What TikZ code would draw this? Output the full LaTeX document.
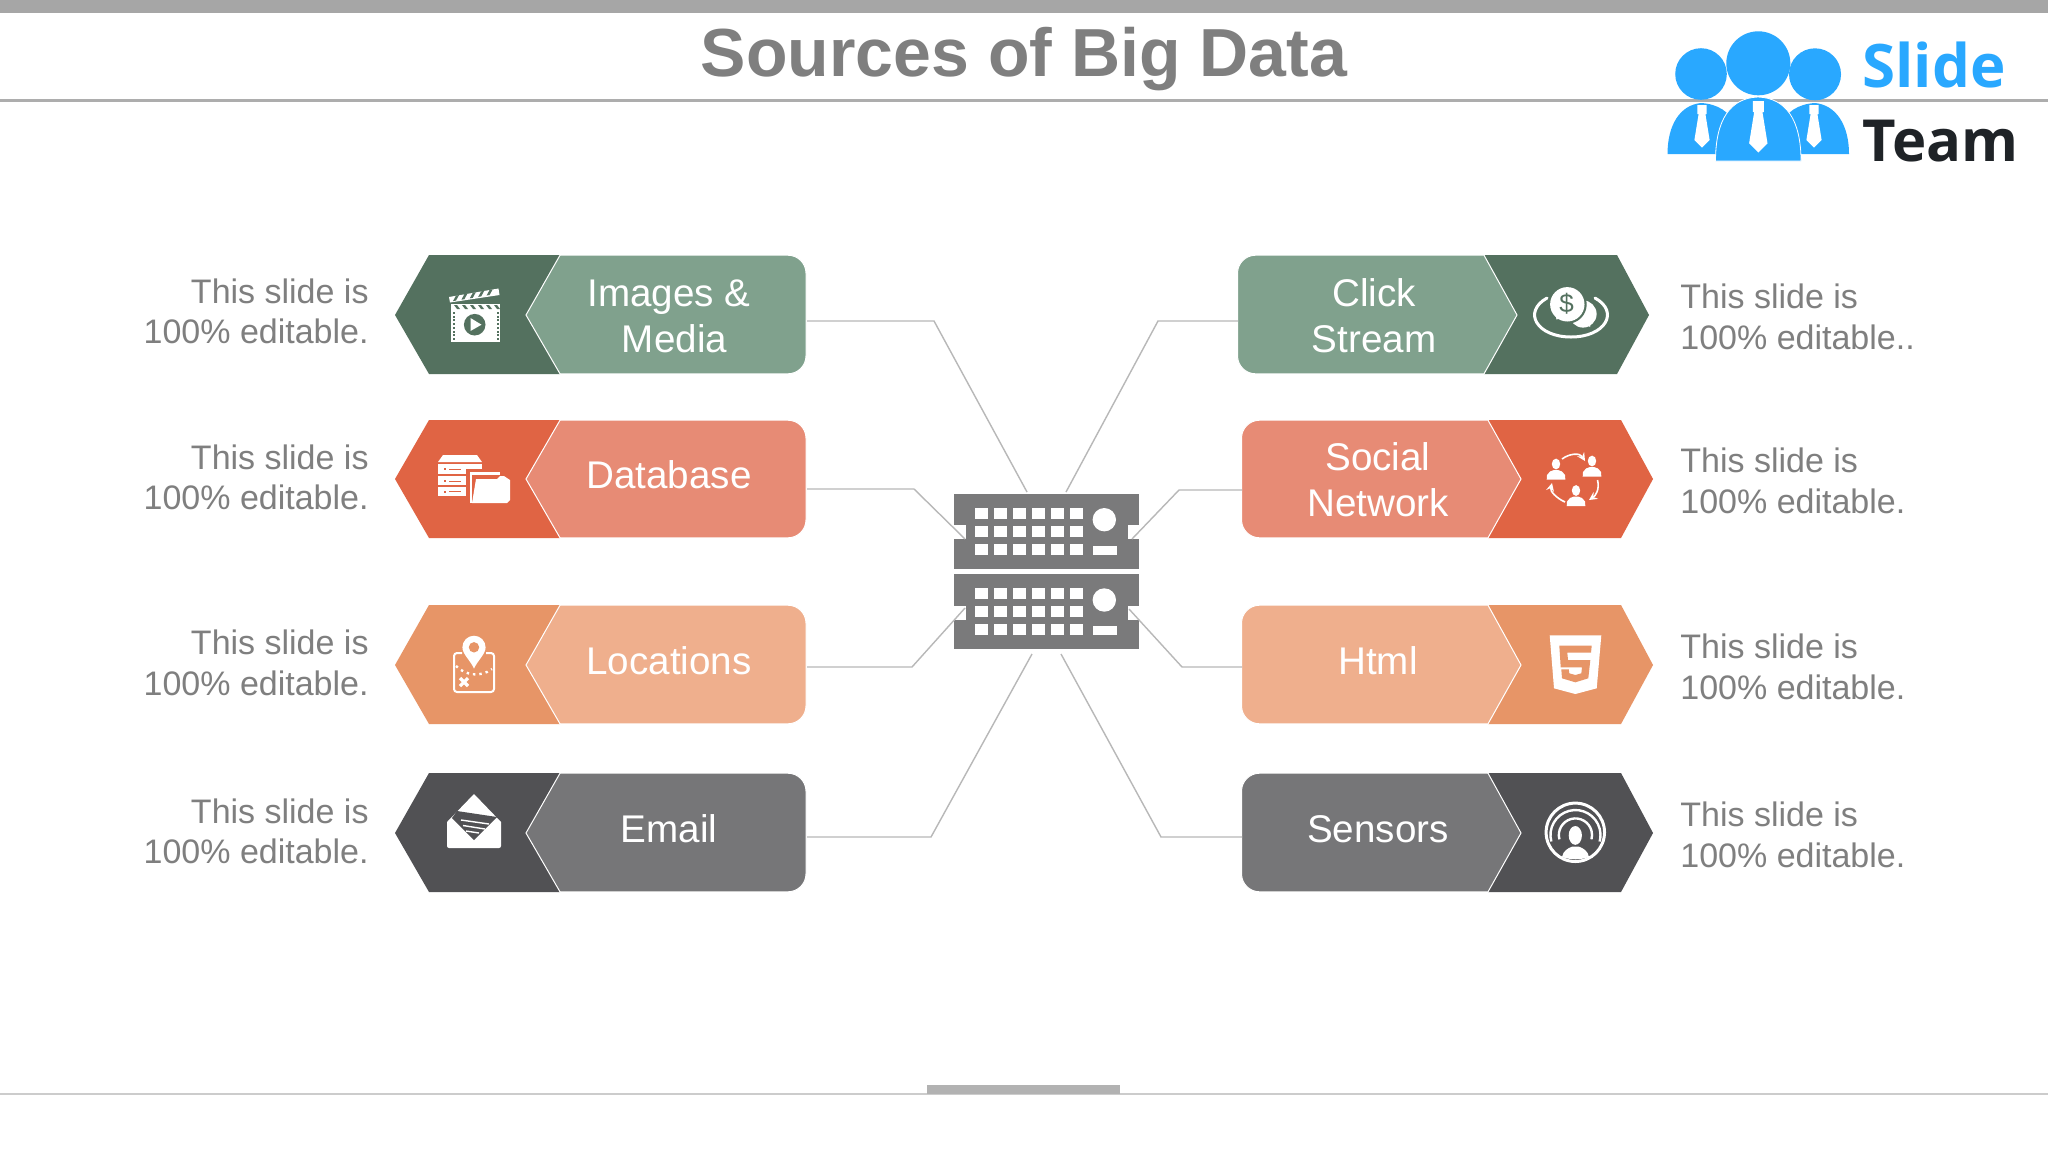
\documentclass[tikz,border=0pt]{standalone}
\usepackage{fontspec}
\setmainfont{Liberation Sans}
\newfontfamily\logofont{Open Sans}[Scale=1]
\definecolor{dkgreen}{HTML}{54715F}\definecolor{ltgreen}{HTML}{80A18D}
\definecolor{dkred}{HTML}{E06444}\definecolor{ltred}{HTML}{E78B75}
\definecolor{dkorange}{HTML}{E79567}\definecolor{ltorange}{HTML}{EFAF8D}
\definecolor{dkgrey}{HTML}{515154}\definecolor{ltgrey}{HTML}{767678}
\definecolor{srvgrey}{HTML}{7A7A7B}\definecolor{txtgrey}{HTML}{7F7F7F}
\definecolor{logoblue}{HTML}{29A8FF}\definecolor{logodark}{HTML}{1F2327}
\tikzset{
  x=0.5pt,y=-0.5pt,
  conn/.style={draw=black!28,line width=0.7pt,line join=miter},
  lightshape/.style={draw=white,line width=0.5pt},
  boxlabel/.style={text=white,align=center,inner sep=0pt,font=\fontsize{19.3}{22.9}\selectfont},
  sidenote/.style={text=txtgrey,inner sep=0pt,font=\fontsize{17}{20.3}\selectfont},
  srvunit/.style={fill=srvgrey,inner sep=0pt,minimum width=92.5pt,minimum height=37.5pt},
  ic/.style={fill=white,draw=none},
}
% name, top, mid, bottom, colour stem, port y
\newcommand\leftshape[6]{%
  \fill[#5] (429,#2)--(395,#3)--(429,#4)--(560,#4)--(560,#2)--cycle;
  \path[lightshape,fill=#6] (560,#2+0.2)--(526,#3)--(560,#4-0.2)--(788,#4-0.2)
     arc[start angle=270,end angle=360,radius=9pt]--(806,#2+18.2)
     arc[start angle=0,end angle=90,radius=9pt]--cycle;
  \coordinate (#1) at (808,#3);
}
\newcommand\rightshape[6]{%
  \fill[#5] (1488+#1,#2)--(1621+#1,#2)--(1653+#1,#3)--(1621+#1,#4)--(1488+#1,#4)--cycle;
  \path[lightshape,fill=#6] (1488+#1,#2+0.2)--(1521+#1,#3)--(1488+#1,#4-0.2)--(1259.5+#1,#4-0.2)
     arc[start angle=270,end angle=180,radius=9pt]--(1241.5+#1,#2+18.2)
     arc[start angle=180,end angle=90,radius=9pt]--cycle;
}
\newcommand\srvholes[2]{%
  \foreach \yy in {0,18,36.3}{\foreach \xx in {0,19,38,57,76,95}{
    \fill[white] (975+\xx,#1+\yy) rectangle ++(12.7,11);}}
  \fill[white] (1104.3,#1+12) circle[radius=5.85pt];
  \fill[white] (1092.7,#1+38) rectangle ++(24.6,9);
  \fill[white] (953,#2) rectangle (966,#2+14);
  \fill[white] (1128,#2) rectangle (1140,#2+14);
}
\newcommand\persona[2]{%
  \begin{scope}[shift={(#1,#2)}]
    \fill[white] (0,-6) ellipse[x radius=2.1pt,y radius=2.7pt];
    \fill[white] (-9.3,9.5)--(-9,5)--(-6,1.5)--(-2,0)--(2,0)--(6,1.5)--(9,5)--(9.3,9.5)--cycle;
  \end{scope}}
\newcommand\logotie[3]{%
  \fill[white] (#1-#3*0.6,#2)--(#1+#3*0.6,#2)--(#1+#3*0.6,#2+#3*1.2)--(#1+#3*0.45,#2+#3*1.2)--(#1+#3,#2+#3*4.6)--(#1,#2+#3*5.6)--(#1-#3,#2+#3*4.6)--(#1-#3*0.45,#2+#3*1.2)--(#1-#3*0.6,#2+#3*1.2)--cycle;}
\begin{document}
\begin{tikzpicture}
\useasboundingbox (0,0) rectangle (2048,1152);
\fill[white] (0,0) rectangle (2048,1152);
% frame
\fill[black!35] (0,0) rectangle (2048,12.5);
\fill[black!32] (0,99) rectangle (2048,102);
\fill[black!20] (0,1093) rectangle (2048,1094.5);
\fill[black!30] (927,1085) rectangle (1120,1094);
\node[text=txtgrey,inner sep=0pt,font=\fontsize{34}{38}\selectfont\bfseries] (title) at (1024,59) {Sources of Big Data};
% logo
\fill[logoblue] (1701,74) circle[radius=12.9pt] (1815,74.3) circle[radius=13pt];
\path[fill=logoblue] (1667.5,154) .. controls (1667.5,125) and (1680,105) .. (1701,103) .. controls (1718,104) and (1730,112) .. (1735,125) -- (1735,154) -- cycle;
\path[fill=logoblue] (1849,154) .. controls (1849,125) and (1836,105) .. (1815,103) .. controls (1798,104) and (1786,112) .. (1781,125) -- (1781,154) -- cycle;
\fill[logoblue] (1758.3,63.3) circle[radius=16pt];
\path[fill=logoblue,draw=white,line width=0.4pt] (1715.5,161) .. controls (1715.5,120) and (1730,98) .. (1758,97) .. controls (1786,98) and (1801,120) .. (1801,161) -- cycle;
\logotie{1702}{105}{7.6}
\logotie{1758.3}{101}{9.2}
\logotie{1814}{105}{7.6}
\node[inner sep=0pt,anchor=base west,text=logoblue,font=\logofont\fontsize{30}{30}\selectfont\bfseries] (logoa) at (1862,87) {Slide};
\node[inner sep=0pt,anchor=base west,text=logodark,font=\logofont\fontsize{29}{29}\selectfont\bfseries] (logob) at (1862,161) {Team};
% rows left
\leftshape{pl1}{255}{315}{374}{dkgreen}{ltgreen}
\leftshape{pl2}{420}{479}{538}{dkred}{ltred}
\leftshape{pl3}{605}{665}{724}{dkorange}{ltorange}
\leftshape{pl4}{773}{833}{892}{dkgrey}{ltgrey}
% rows right
\rightshape{-4}{255}{315}{374}{dkgreen}{ltgreen}
\rightshape{0}{420}{479}{538}{dkred}{ltred}
\rightshape{0}{605}{665}{724}{dkorange}{ltorange}
\rightshape{0}{773}{833}{892}{dkgrey}{ltgrey}
% labels
\node[boxlabel] (imgs) at (674.5,316) {Images \&\phantom{ }\\Media};
\node[boxlabel] (dbase) at (669,475) {Database};
\node[boxlabel] (locs) at (669,661) {Locations};
\node[boxlabel] (email) at (669,829) {Email};
\node[boxlabel] (click) at (1374,315.5) {Click\\Stream};
\node[boxlabel] (social) at (1378,480) {Social\\Network};
\node[boxlabel] (html) at (1378,661) {Html};
\node[boxlabel] (sensors) at (1378,829) {Sensors};
% side notes
\node[sidenote,anchor=east,align=right] (nl1) at (369,311.5) {This slide is\\100\% editable.};
\node[sidenote,anchor=east,align=right] (nl2) at (369,477.5) {This slide is\\100\% editable.};
\node[sidenote,anchor=east,align=right] (nl3) at (369,662.8) {This slide is\\100\% editable.};
\node[sidenote,anchor=east,align=right] (nl4) at (369,831.3) {This slide is\\100\% editable.};
\node[sidenote,anchor=west,align=left] (nr1) at (1680,316.7) {This slide is\\100\% editable..};
\node[sidenote,anchor=west,align=left] (nr2) at (1680,481) {This slide is\\100\% editable.};
\node[sidenote,anchor=west,align=left] (nr3) at (1680,666.7) {This slide is\\100\% editable.};
\node[sidenote,anchor=west,align=left] (nr4) at (1680,835) {This slide is\\100\% editable.};
% server
\node[srvunit] (srvA) at (1046.5,531) {};
\node[srvunit] (srvB) at (1046.5,611.5) {};
\srvholes{507.7}{525}
\srvholes{588}{606}
% connector end points
\coordinate (sa) at (807,321); \coordinate (sb) at (807,489); \coordinate (sc) at (807,667); \coordinate (sd) at (807,837);
\coordinate (ra) at (1238,321); \coordinate (rb) at (1242,490); \coordinate (rc) at (1242,667); \coordinate (rd) at (1242,837);
\coordinate (ea) at (1027,492); \coordinate (eb) at (965,539); \coordinate (ec) at (965,608); \coordinate (ed) at (1032,654);
\coordinate (fa) at (1066,492); \coordinate (fb) at (1132,539); \coordinate (fc) at (1129,609); \coordinate (fd) at (1061,654);
\draw[conn] (sa) -- (934,321) -- (ea);
\draw[conn] (sb) -- (914,489) -- (eb);
\draw[conn] (sc) -- (912,667) -- (ec);
\draw[conn] (sd) -- (931,837) -- (ed);
\draw[conn] (ra) -- (1158,321) -- (fa);
\draw[conn] (rb) -- (1179,490) -- (fb);
\draw[conn] (rc) -- (1182,667) -- (fc);
\draw[conn] (rd) -- (1161,837) -- (fd);
% icon: clapper
\fill[ic] (449,297)--(498.5,288.5)--(499.5,295)--(450,302.5)--cycle;
\foreach \q in {0,1,2,3,4}{\fill[dkgreen] (456+\q*8.4,295.6-\q*1.4)--(459+\q*8.4,295.1-\q*1.4)--(456+\q*8.4,300.6-\q*1.4)--(453+\q*8.4,301.1-\q*1.4)--cycle;}
\fill[ic] (451,304) rectangle (500,342);
\foreach \q in {0,1,2,3,4,5}{\fill[dkgreen] (454+\q*8,305)--(457+\q*8,305)--(460+\q*8,309)--(457+\q*8,309)--cycle;}
\foreach \q in {0,...,7}{\fill[dkgreen] (452.5,312+\q*3.7) rectangle ++(2,2);\fill[dkgreen] (496.5,312+\q*3.7) rectangle ++(2,2);}
\fill[dkgreen] (474.7,324.7) circle[radius=5.4pt];
\fill[white] (470.5,318)--(470.5,331)--(481.5,324.7)--cycle;
% icon: database + folder
\fill[ic] (443,455)--(477,455)--(482,462)--(438,462)--cycle;
\fill[ic] (438,464) rectangle (482,474);
\fill[ic] (438,476) rectangle (482,485);
\fill[ic] (438,487) rectangle (482,496);
\foreach \q in {469,481,491.5}{\fill[dkred] (444,\q-1) rectangle ++(2,2);\fill[dkred] (449,\q-0.5) rectangle ++(12,1);}
\fill[dkred] (466,469) rectangle (512,506);
\fill[ic] (470,472) rectangle (500,503);
\fill[dkred] (472,475) rectangle (504,503);
\fill[ic] (500,476)--(504,476)--(510,480)--(510,500)--(507,503)--(472,503)--(476,479)--(497,479)--cycle;
% icon: location
\path[draw=white,line width=1pt,rounded corners=1.5pt] (462,653)--(454,653)--(454,692)--(494,692)--(494,653)--(486,653);
\fill[ic] (474,668.5) .. controls (470,660) and (462.4,654) .. (462.4,647.3) arc[start angle=180,end angle=0,radius=5.8pt] .. controls (485.6,654) and (478,660) .. (474,668.5) -- cycle;
\fill[dkorange] (474,647.3) circle[radius=2.6pt];
\draw[white,line width=1.2pt,dotted] (456,666) .. controls (465,675) and (480,678) .. (492,669);
\draw[white,line width=1.6pt] (460,678)--(468,686) (468,678)--(460,686);
% icon: envelope
\fill[ic] (447,822)--(474,794)--(501,822)--(501,846) arc[start angle=0,end angle=-90,radius=1pt]--(449,848) arc[start angle=270,end angle=180,radius=1pt]--cycle;
\fill[dkgrey] (457,811)--(497,817)--(474,840)--(452,818)--cycle;
\draw[white,line width=0.7pt] (461,820)--(489,824) (463,825.5)--(485,829) (466,831)--(479,833);
% icon: click stream
\draw[white,line width=1.5pt,line cap=round] (1547,298) .. controls (1522,312) and (1537,337) .. (1571,337) .. controls (1605,337) and (1620,312) .. (1595,298);
\fill[ic] (1583,314) circle[radius=6.8pt];
\fill[ic] (1584,322)--(1590,327)--(1592,318)--cycle;
\fill[dkgreen] (1567.3,304.3) circle[radius=9.7pt];
\fill[ic] (1567.3,304.3) circle[radius=8.6pt];
\fill[ic] (1555,313)--(1556.5,319.5)--(1565,317)--cycle;
\node[inner sep=0pt,text=dkgreen,font=\fontsize{13}{13}\selectfont] (dollar) at (1566.5,304) {\$};
% icon: social network
\persona{1556}{470}
\persona{1592}{467}
\persona{1576}{496.5}
\draw[white,line width=0.8pt,-stealth] (1562,459) .. controls (1570,453) and (1580,453) .. (1585,461);
\draw[white,line width=0.8pt,-stealth] (1597.5,480) .. controls (1600,490) and (1595,496) .. (1589,500);
\draw[white,line width=0.8pt,-stealth] (1565,502) .. controls (1556,498) and (1550,491) .. (1552,483);
% icon: html5
\fill[ic] (1549.7,635.3)--(1601.3,635.3)--(1596.7,688.3)--(1575.3,694)--(1554,688.3)--cycle;
\fill[dkorange] (1559.3,645.7)--(1591.7,645.7)--(1591,652.7)--(1567.3,652.7)--(1568,660)--(1590.3,660)--(1588.3,678.3)--(1575.3,682.3)--(1562,678.3)--(1561.3,669.3)--(1568.7,669.3)--(1569.3,673.3)--(1575.3,675)--(1581.3,673.3)--(1582,667.3)--(1560.7,667.3)--cycle;
% icon: sensors
\draw[white,line width=1.5pt] (1575.3,832.3) circle[radius=14.6pt];
\draw[white,line width=1.2pt] (1551.3,841.5) arc[start angle=195,end angle=-15,radius=12.5pt];
\draw[white,line width=1.2pt] (1559.4,839.3) arc[start angle=195,end angle=-15,radius=8.3pt];
\fill[ic] (1575.3,835.4) ellipse[x radius=3.3pt,y radius=4.7pt];
\fill[ic] (1562,857) .. controls (1563,851) and (1568,848) .. (1572,846.7) -- (1579,846.7) .. controls (1583,848) and (1588,851) .. (1589,857) .. controls (1581,860) and (1570,860) .. (1562,857) -- cycle;
\end{tikzpicture}
\end{document}
